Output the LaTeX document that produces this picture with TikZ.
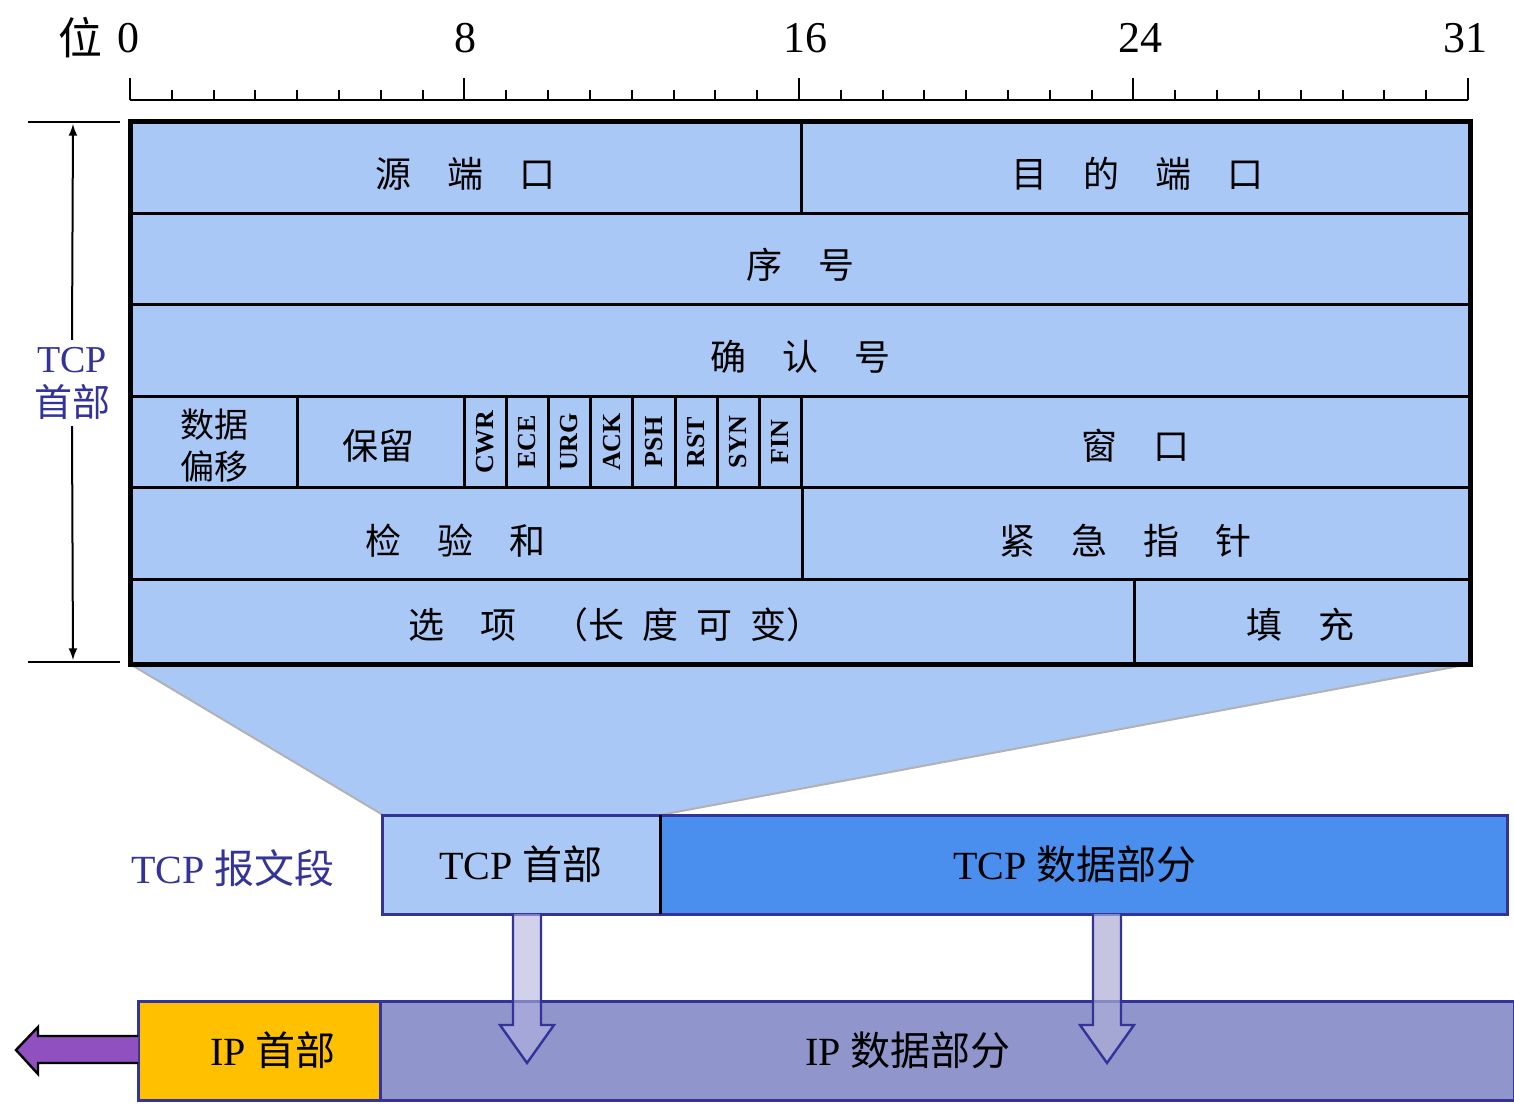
\documentclass[tikz,border=0pt]{standalone}
\usepackage{fontspec}
\setmainfont{Liberation Serif}
\newfontfamily\cjk{Noto Sans CJK SC}
\usetikzlibrary{calc}
\definecolor{cell}{HTML}{A9C8F5}
\definecolor{navy}{HTML}{333399}
\definecolor{tdata}{HTML}{4A8FEE}
\definecolor{ipdata}{HTML}{9096CC}
\definecolor{iphead}{HTML}{FFC000}
\definecolor{purp}{HTML}{9050C0}
\begin{document}
\begin{tikzpicture}[x=0.5pt,y=-0.5pt,
  f/.style={font=\cjk\fontsize{18}{20}\selectfont},
  num/.style={font=\fontsize{22}{24}\selectfont},
  flag/.style={font=\bfseries\fontsize{13}{14}\selectfont,rotate=90},
  box/.style={draw=navy,line width=1.5pt},
  lbl/.style={text=navy,font=\fontsize{20}{22}\selectfont}]
\useasboundingbox (0,0) rectangle (1514,1106);
% trapezoid
\fill[cell] (130,664) -- (1470,664) -- (660,815) -- (383,815) -- cycle;
\draw[gray!60,line width=1pt] (130,664) -- (383,815) (1470,664) -- (660,815);
% ruler
\node[num] (wei) at (80,38) {\cjk 位};
\foreach \v/\x in {0/128,8/465,16/805,24/1140,31/1465} \node[num] (n\v) at (\x,38) {\v};
\draw[line width=1pt] (130,100) -- (1468,100);
\foreach \i in {0,...,32} \draw[line width=1pt] ({130+\i*41.81},100) -- ({130+\i*41.81},90);
\foreach \i in {0,8,16,24,32} \draw[line width=1pt] ({130+\i*41.81},100) -- ({130+\i*41.81},78);
% table
\fill[cell] (130,122) rectangle (1470,664);
\begin{scope}[line width=1.5pt]
\foreach \y in {214,305,397,488,579} \draw (130,\y) -- (1470,\y);
\draw (801,122) -- (801,214);
\draw (297,397) -- (297,488);
\foreach \i in {0,...,8} \draw ({464+\i*42.2},397) -- ({464+\i*42.2},488);
\draw (802,488) -- (802,579);
\draw (1134,579) -- (1134,664);
\end{scope}
\draw[line width=2.5pt] (130,122) rectangle (1470,664);
\node[f] (sp) at (465,174) {源\quad 端\quad 口};
\node[f] (dp) at (1137,174) {目\quad 的\quad 端\quad 口};
\node[f] (seq) at (800,265) {序\quad 号};
\node[f] (ack) at (800,357) {确\quad 认\quad 号};
\node[f,align=center,font=\cjk\fontsize{17}{21}\selectfont] (off) at (214,446) {数据\\偏移};
\node[f] (res) at (378,446) {保留};
\foreach \n [count=\k from 0] in {CWR,ECE,URG,ACK,PSH,RST,SYN,FIN}
  \node[flag] (fl\k) at ({485+\k*42.2},442) {\n};
\node[f] (win) at (1135,446) {窗\quad 口};
\node[f] (cks) at (455,541) {检\quad 验\quad 和};
\node[f] (urg) at (1125,541) {紧\quad 急\quad 指\quad 针};
\node[f] (opt) at (615,625) {选\quad 项\quad （长\enspace 度\enspace 可\enspace 变）};
\node[f] (pad) at (1300,625) {填\quad 充};
% header size arrow
\draw[line width=1pt] (28,122) -- (120,122) (28,662) -- (120,662);
\node[lbl,align=center,font=\fontsize{19}{22}\selectfont] (tcph) at (72,383) {TCP\\{\cjk 首部}};
\draw[line width=1pt,-latex] (tcph.north) -- (73,124);
\draw[line width=1pt,-latex] (tcph.south) -- (73,660);
% TCP segment
\node[lbl] (seg) at (233,868) {TCP {\cjk 报文段}};
\draw[box,fill=cell] (382,815) rectangle (660,914);
\draw[box,fill=tdata] (660,815) rectangle (1507,914);
\draw[line width=1.5pt] (660,815) -- (660,914);
\node[font=\fontsize{20}{22}\selectfont] (th) at (521,864) {TCP {\cjk 首部}};
\node[font=\fontsize{20}{22}\selectfont] (td) at (1075,864) {TCP {\cjk 数据部分}};
% IP datagram
\draw[box,fill=iphead] (138,1001) rectangle (380,1100);
\draw[box,fill=ipdata] (380,1001) rectangle (1514,1100);
\node[font=\fontsize{20}{22}\selectfont] (ih) at (273,1050) {IP {\cjk 首部}};
\node[font=\fontsize{20}{22}\selectfont] (id) at (908,1050) {IP {\cjk 数据部分}};
% purple arrow
\draw[fill=purp,line width=1.2pt] (138,1036) -- (38,1036) -- (38,1027) -- (16,1050) -- (38,1074) -- (38,1063) -- (138,1063);
% down arrows
\draw[draw=navy,line width=1.2pt,fill=cyan!20!blue!30,fill opacity=0.6] (513,914) -- (513,1025) -- (500,1025) -- (527,1063) -- (554,1025) -- (541,1025) -- (541,914);
\draw[draw=navy,line width=1.2pt,fill=navy!40,fill opacity=0.7] (1093,914) -- (1093,1025) -- (1080,1025) -- (1107,1063) -- (1134,1025) -- (1121,1025) -- (1121,914);
\end{tikzpicture}
\end{document}
